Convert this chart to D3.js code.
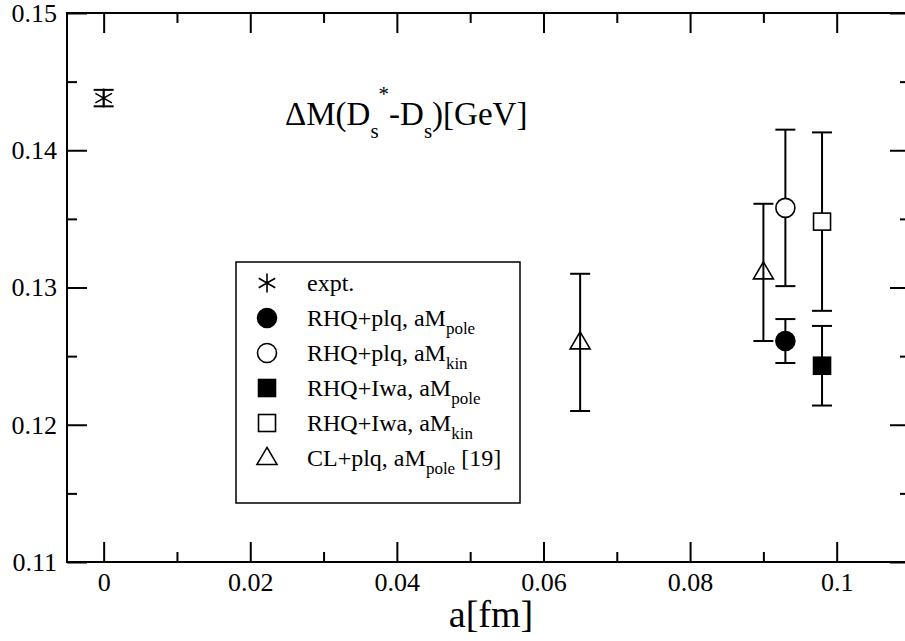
<!DOCTYPE html>
<html>
<head>
<meta charset="utf-8">
<script src="https://cdn.jsdelivr.net/npm/d3@7"></script>
<style>
  body { margin: 0; background: #fff; }
  svg { display: block; }
</style>
</head>
<body>
<svg id="chart" width="905" height="641" font-family="Liberation Serif"></svg>
<script>
// Hyperfine splitting of D_s versus lattice spacing
const seriesMain   = ["expt.", "RHQ+plq, aM", "RHQ+plq, aM", "RHQ+Iwa, aM", "RHQ+Iwa, aM", "CL+plq, aM"];
const seriesSub    = ["", "pole", "kin", "pole", "kin", "pole"];
const seriesTail   = ["", "", "", "", "", " [19]"];
const seriesSymbol = ["star", "circleFilled", "circleOpen", "squareFilled", "squareOpen", "triangleOpen"];
const seriesA      = [[0], [0.093], [0.093], [0.098], [0.098], [0.065, 0.090]];
const seriesDM     = [[0.1438], [0.1261], [0.1358], [0.1243], [0.1348], [0.1260, 0.1311]];
const seriesErr    = [[0.0006], [0.0016], [0.0057], [0.0029], [0.0065], [0.0050, 0.0050]];

const xMajor = [0, 0.02, 0.04, 0.06, 0.08, 0.1];
const xMajorLabels = ["0", "0.02", "0.04", "0.06", "0.08", "0.1"];
const xMinor = [0.01, 0.03, 0.05, 0.07, 0.09];
const yMajor = [0.11, 0.12, 0.13, 0.14, 0.15];
const yMajorLabels = ["0.11", "0.12", "0.13", "0.14", "0.15"];
const yMinor = [0.115, 0.125, 0.135, 0.145];

const FONT = '"Liberation Serif"';
const svg = d3.select("#chart");
const L = 67, R = 910, T = 13, B = 562;

const x = d3.scaleLinear().domain([-0.005, 0.11]).range([L, R]);
const y = d3.scaleLinear().domain([0.11, 0.15]).range([B, T]);

const fmtX = (d) => xMajorLabels[xMajor.indexOf(d)];
const fmtY = (d) => yMajorLabels[yMajor.findIndex(v => Math.abs(v - d) < 1e-9)];

function styleAxis(g) {
  g.attr("font-family", "Liberation Serif");
  g.select(".domain").remove();
  g.selectAll(".tick line").attr("stroke", "#000").attr("stroke-width", 2);
  g.selectAll(".tick text").attr("fill", "#000").attr("font-family", "Liberation Serif")
    .style("font-family", FONT).style("font-size", "26px");
}

// bottom axis
svg.append("g").attr("transform", `translate(0,${B})`)
  .call(d3.axisBottom(x).tickValues(xMajor).tickSize(-20).tickPadding(11).tickFormat(fmtX))
  .call(styleAxis);
svg.append("g").attr("transform", `translate(0,${B})`)
  .call(d3.axisBottom(x).tickValues(xMinor).tickSize(-10).tickFormat(""))
  .call(styleAxis);
// top mirror ticks
svg.append("g").attr("transform", `translate(0,${T})`)
  .call(d3.axisTop(x).tickValues(xMajor).tickSize(-20).tickFormat(""))
  .call(styleAxis);
svg.append("g").attr("transform", `translate(0,${T})`)
  .call(d3.axisTop(x).tickValues(xMinor).tickSize(-10).tickFormat(""))
  .call(styleAxis);
// left axis
svg.append("g").attr("transform", `translate(${L},0)`)
  .call(d3.axisLeft(y).tickValues(yMajor).tickSize(-20).tickPadding(10).tickFormat(fmtY))
  .call(styleAxis);
svg.append("g").attr("transform", `translate(${L},0)`)
  .call(d3.axisLeft(y).tickValues(yMinor).tickSize(-10).tickFormat(""))
  .call(styleAxis);
// right mirror ticks
svg.append("g").attr("transform", `translate(${R},0)`)
  .call(d3.axisRight(y).tickValues(yMajor).tickSize(-20).tickFormat(""))
  .call(styleAxis);
svg.append("g").attr("transform", `translate(${R},0)`)
  .call(d3.axisRight(y).tickValues(yMinor).tickSize(-10).tickFormat(""))
  .call(styleAxis);

// frame
svg.append("rect").attr("x", L).attr("y", T).attr("width", R - L).attr("height", B - T)
  .attr("fill", "none").attr("stroke", "#000").attr("stroke-width", 2);

// symbol drawing
function drawSymbol(g, kind, cx, cy) {
  const sw = 1.6;
  if (kind === "star") {
    const r = 9.5;
    const p = d3.path();
    p.moveTo(cx, cy - r); p.lineTo(cx, cy + r);
    p.moveTo(cx - r * 0.87, cy - r * 0.5); p.lineTo(cx + r * 0.87, cy + r * 0.5);
    p.moveTo(cx - r * 0.87, cy + r * 0.5); p.lineTo(cx + r * 0.87, cy - r * 0.5);
    g.append("path").attr("d", p.toString()).attr("stroke", "#000").attr("stroke-width", sw).attr("fill", "none");
  } else if (kind === "circleFilled" || kind === "circleOpen") {
    g.append("circle").attr("cx", cx).attr("cy", cy).attr("r", 9.5)
      .attr("fill", kind === "circleFilled" ? "#000" : "#fff")
      .attr("stroke", "#000").attr("stroke-width", sw);
  } else if (kind === "squareFilled" || kind === "squareOpen") {
    const h = 8.5;
    g.append("rect").attr("x", cx - h).attr("y", cy - h).attr("width", 2 * h).attr("height", 2 * h)
      .attr("fill", kind === "squareFilled" ? "#000" : "#fff")
      .attr("stroke", "#000").attr("stroke-width", sw);
  } else if (kind === "triangleOpen") {
    const w = 10, h = 17;
    const p = d3.path();
    p.moveTo(cx, cy - h * 0.62); p.lineTo(cx + w, cy + h * 0.38); p.lineTo(cx - w, cy + h * 0.38); p.closePath();
    g.append("path").attr("d", p.toString()).attr("fill", "none")
      .attr("stroke", "#000").attr("stroke-width", sw);
  }
}

// data: error bars, then markers
const plot = svg.append("g");
seriesSymbol.forEach((kind, i) => {
  seriesA[i].forEach((a, j) => {
    const v = seriesDM[i][j], e = seriesErr[i][j];
    const cx = x(a), yt = y(v + e), yb = y(v - e);
    const capW = 10;
    const eb = plot.append("g").attr("stroke", "#000").attr("stroke-width", 2);
    eb.append("line").attr("x1", cx).attr("x2", cx).attr("y1", yt).attr("y2", yb);
    eb.append("line").attr("x1", cx - capW).attr("x2", cx + capW).attr("y1", yt).attr("y2", yt);
    eb.append("line").attr("x1", cx - capW).attr("x2", cx + capW).attr("y1", yb).attr("y2", yb);
    drawSymbol(plot, kind, cx, y(v));
  });
});

// serif text pieces (main runs, subscripts, superscripts)
function piece(t, str, size, dy) {
  const s = t.append("tspan").attr("font-family", "Liberation Serif")
    .style("font-family", FONT).style("font-size", size + "px").text(str);
  if (dy) s.attr("dy", dy);
  return s;
}

// title
const title = svg.append("text").attr("x", 285).attr("y", 125).attr("fill", "#000")
  .attr("font-family", "Liberation Serif").style("font-family", FONT).style("font-size", "33px");
piece(title, "\u0394M(D", 33);
piece(title, "s", 21, 13);
piece(title, "*", 21, -37);
piece(title, "-D", 33, 24);
piece(title, "s", 21, 13);
piece(title, ")[GeV]", 33, -13);

// axis label
svg.append("text").attr("x", 491).attr("y", 627).attr("text-anchor", "middle").attr("fill", "#000")
  .attr("font-family", "Liberation Serif").style("font-family", FONT).style("font-size", "38px").text("a[fm]");

// legend
const lg = svg.append("g");
lg.append("rect").attr("x", 236).attr("y", 262).attr("width", 284).attr("height", 241)
  .attr("fill", "#fff").attr("stroke", "#000").attr("stroke-width", 1.5);
seriesSymbol.forEach((kind, i) => {
  const cy = 283 + i * 35;
  drawSymbol(lg, kind, 267, cy);
  const t = lg.append("text").attr("x", 307).attr("y", cy + 8).attr("fill", "#000")
    .attr("font-family", "Liberation Serif").style("font-family", FONT).style("font-size", "24px");
  piece(t, seriesMain[i], 24);
  if (seriesSub[i]) piece(t, seriesSub[i], 17, 8);
  if (seriesTail[i]) piece(t, seriesTail[i], 24, -8);
});
</script>
</body>
</html>
